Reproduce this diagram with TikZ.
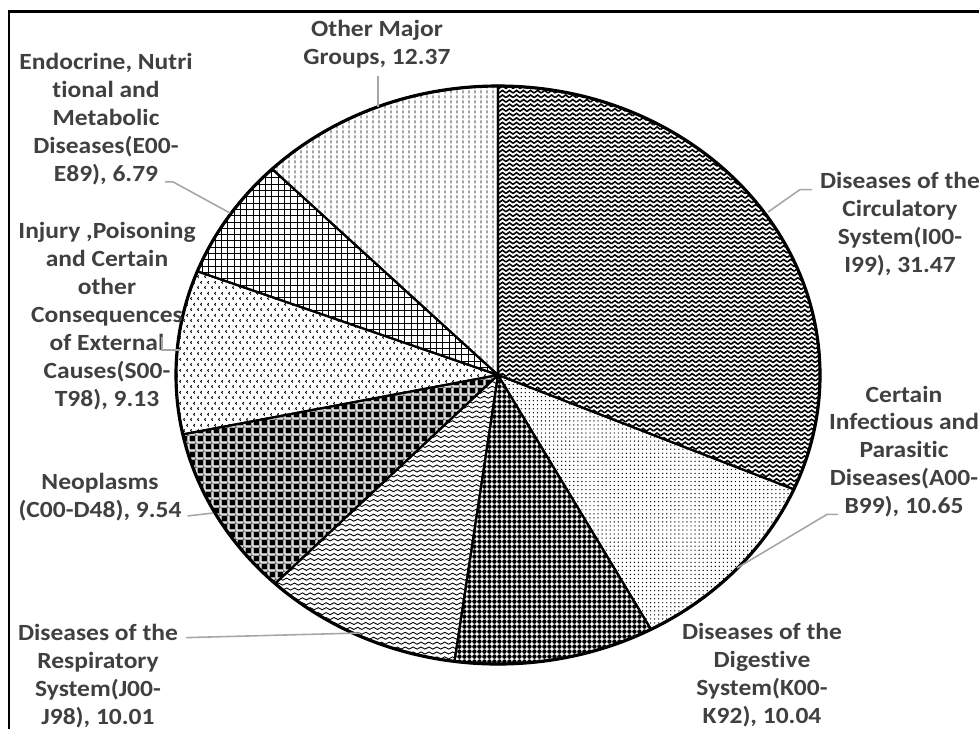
\documentclass[tikz,border=0pt]{standalone}
\usepackage{fontspec}
\newfontfamily\chartfont[FakeStretch=1.1,Ligatures=NoCommon]{Carlito}
\usepackage{tikz}
\usetikzlibrary{patterns,calc}
\definecolor{lbltext}{HTML}{404040}
\definecolor{leadgray}{HTML}{A6A6A6}

\pgfdeclarepatternformonly{herring}{\pgfpoint{-1pt}{-1pt}}{\pgfpoint{5pt}{3.6pt}}{\pgfpoint{4pt}{2.6pt}}{%
  \pgfsetlinewidth{0.9pt}
  \pgfpathmoveto{\pgfpoint{0pt}{0pt}}
  \pgfpathlineto{\pgfpoint{2pt}{1.5pt}}
  \pgfpathlineto{\pgfpoint{4pt}{0pt}}
  \pgfusepath{stroke}}
\pgfdeclarepatternformonly{finedots}{\pgfpoint{-0.5pt}{-0.5pt}}{\pgfpoint{0.5pt}{0.5pt}}{\pgfpoint{2.3pt}{2.3pt}}{%
  \pgfpathcircle{\pgfpointorigin}{0.4pt}
  \pgfusepath{fill}}
\pgfdeclarepatternformonly{bigdots}{\pgfpoint{0pt}{0pt}}{\pgfpoint{2.8pt}{2.8pt}}{\pgfpoint{2.8pt}{2.8pt}}{%
  \pgfpathcircle{\pgfpoint{1.4pt}{1.4pt}}{1.28pt}
  \pgfusepath{fill}}
\pgfdeclarepatternformonly{waves}{\pgfpoint{-0.5pt}{-0.5pt}}{\pgfpoint{5pt}{2.3pt}}{\pgfpoint{4.5pt}{2.8pt}}{%
  \pgfsetlinewidth{0.5pt}
  \pgfpathmoveto{\pgfpoint{0pt}{0.7pt}}
  \pgfpathcurveto{\pgfpoint{0.75pt}{1.5pt}}{\pgfpoint{1.5pt}{1.5pt}}{\pgfpoint{2.25pt}{0.7pt}}
  \pgfpathcurveto{\pgfpoint{3pt}{-0.1pt}}{\pgfpoint{3.75pt}{-0.1pt}}{\pgfpoint{4.5pt}{0.7pt}}
  \pgfusepath{stroke}}
\pgfdeclarepatternformonly{checkers}{\pgfpoint{0pt}{0pt}}{\pgfpoint{4.5pt}{4.5pt}}{\pgfpoint{4.5pt}{4.5pt}}{%
  \pgfpathrectangle{\pgfpoint{0.4pt}{0.4pt}}{\pgfpoint{3pt}{3pt}}
  \pgfusepath{fill}
  \pgfsetlinewidth{0.35pt}
  \pgfpathmoveto{\pgfpoint{0pt}{3.95pt}}\pgfpathlineto{\pgfpoint{4.5pt}{3.95pt}}
  \pgfpathmoveto{\pgfpoint{3.95pt}{0pt}}\pgfpathlineto{\pgfpoint{3.95pt}{4.5pt}}
  \pgfusepath{stroke}}
\pgfdeclarepatternformonly{chevrons}{\pgfpoint{0pt}{0pt}}{\pgfpoint{4pt}{6pt}}{\pgfpoint{4pt}{6pt}}{%
  \pgfsetlinewidth{0.5pt}
  \pgfpathmoveto{\pgfpoint{1.7pt}{2.2pt}}\pgfpathlineto{\pgfpoint{1pt}{1.5pt}}\pgfpathlineto{\pgfpoint{1.7pt}{0.8pt}}
  \pgfpathmoveto{\pgfpoint{3.7pt}{5.2pt}}\pgfpathlineto{\pgfpoint{3pt}{4.5pt}}\pgfpathlineto{\pgfpoint{3.7pt}{3.8pt}}
  \pgfusepath{stroke}}
\pgfdeclarepatternformonly{smallgrid}{\pgfpoint{-1pt}{-1pt}}{\pgfpoint{3.6pt}{3.6pt}}{\pgfpoint{3.6pt}{3.6pt}}{%
  \pgfsetlinewidth{0.55pt}
  \pgfpathmoveto{\pgfpoint{0pt}{0pt}}\pgfpathlineto{\pgfpoint{0pt}{3.7pt}}
  \pgfpathmoveto{\pgfpoint{0pt}{0pt}}\pgfpathlineto{\pgfpoint{3.7pt}{0pt}}
  \pgfusepath{stroke}}
\pgfdeclarepatternformonly{vdash}{\pgfpoint{0pt}{0pt}}{\pgfpoint{3.4pt}{2.8pt}}{\pgfpoint{3.4pt}{2.8pt}}{%
  \pgfsetlinewidth{0.5pt}
  \pgfpathmoveto{\pgfpoint{1.7pt}{0.4pt}}\pgfpathlineto{\pgfpoint{1.7pt}{2.1pt}}
  \pgfusepath{stroke}}

\begin{document}
\begin{tikzpicture}[x=0.02cm,y=-0.02cm,
    lbl/.style={font=\chartfont\bfseries\fontsize{13.2}{15.9}\selectfont, text=lbltext, align=center, inner sep=1pt},
    slice/.style={draw=black, line width=1.2pt},
    leader/.style={draw=leadgray, line width=0.9pt}]
    \clip (0,0) rectangle (979,728);
    \draw[line width=1.7pt] (9,11) rectangle (1000,750);
    \foreach \from/\to/\pat in {-90/23.29/herring, 23.29/61.63/finedots, 61.63/97.77/bigdots,
        97.77/133.81/waves, 133.81/168.15/checkers, 168.15/201.02/chevrons,
        201.02/225.46/smallgrid, 225.46/270/vdash}
        \draw[slice, pattern=\pat, shift={(498,375)}] (0,0) -- (\from:322 and 289)
            arc[start angle=\from, end angle=\to, x radius=322, y radius=289] -- cycle;
    \draw[line width=1.8pt] (498,375) ellipse [x radius=322, y radius=289];
    \node[lbl] at (900,224.5) (circ) {Diseases of the\\Circulatory\\System(I00-\\I99), 31.47};
    \node[lbl] at (904,451.5) (infect) {Certain\\Infectious and\\Parasitic\\Diseases(A00-\\B99), 10.65};
    \node[lbl] at (762,675) (digest) {Diseases of the\\Digestive\\System(K00-\\K92), 10.04};
    \node[lbl] at (98,676.5) (resp) {Diseases of the\\Respiratory\\System(J00-\\J98), 10.01};
    \node[lbl] at (100,497) (neo) {Neoplasms\\(C00-D48), 9.54};
    \node[lbl] at (107,316) (injury) {Injury ,Poisoning\\and Certain\\other\\Consequences\\of External\\Causes(S00-\\T98), 9.13};
    \node[lbl] at (106,119) (endo) {Endocrine, Nutri\\tional and\\Metabolic\\Diseases(E00-\\E89), 6.79};
    \node[lbl] at (377,44) (other) {Other Major\\Groups, 12.37};
    \coordinate (circpt) at (768,212);
    \coordinate (infectpt) at (737,568);
    \coordinate (resppt) at (360,633);
    \coordinate (neopt) at (213,513);
    \coordinate (injurypt) at (180,350);
    \coordinate (endopt) at (230,213);
    \coordinate (otherpt) at (378,107);
    \draw[leader] ($(circ.north west)+(-6,19)$) -- ++(-12,0) -- (circpt);
    \draw[leader] ($(infect.south)+(-66,-5)$) -- ++(-11,0) -- (infectpt);
    \draw[leader] ($(resp.north east)+(6,15)$) -- (resppt);
    \draw[leader] ($(neo.south east)+(4,-7)$) -- (neopt);
    \draw[leader] ($(injury.center)+(55,21)$) -- ++(0,13) -- (injurypt);
    \draw[leader] ($(endo.south)+(59,-5)$) -- ++(8,0) -- (endopt);
    \draw[leader] ($(other.south)+(1,6)$) -- (otherpt);
\end{tikzpicture}
\end{document}
